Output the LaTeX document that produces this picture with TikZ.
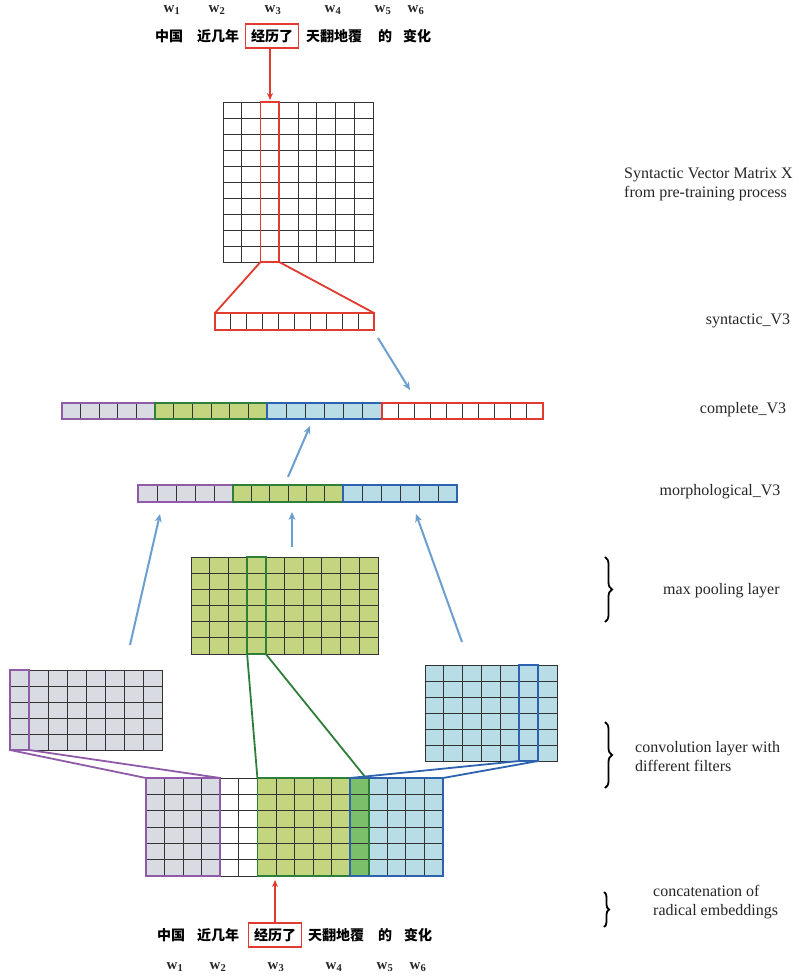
\documentclass[tikz,border=0pt]{standalone}
\usepackage{fontspec}
\setmainfont{Liberation Serif}
\newfontfamily\cjk{Noto Sans CJK SC}
\usetikzlibrary{arrows.meta,decorations.pathreplacing}
\definecolor{gridc}{HTML}{333333}
\definecolor{purp}{HTML}{8E5BA8}
\definecolor{greyf}{HTML}{D8DCE2}
\definecolor{grn}{HTML}{2F7F3A}
\definecolor{olive}{HTML}{C4D580}
\definecolor{dkgf}{HTML}{7BBF6A}
\definecolor{blu}{HTML}{2D62AE}
\definecolor{lblue}{HTML}{B8DDE6}
\definecolor{redc}{HTML}{E23A2E}
\definecolor{arrc}{HTML}{6B9FCF}
\newcommand\cellgrid[7]{%
  \fill[#7] (#1,#2) rectangle (#3,#4);
  \pgfmathtruncatemacro\gc{#5-1}%
  \foreach \k in {1,...,\gc}{\draw[gridline] ({#1+(#3-#1)*\k/#5},#2) -- ({#1+(#3-#1)*\k/#5},#4);}%
  \ifnum#6>1
    \pgfmathtruncatemacro\gr{#6-1}%
    \foreach \k in {1,...,\gr}{\draw[gridline] (#1,{#2+(#4-#2)*\k/#6}) -- (#3,{#2+(#4-#2)*\k/#6});}%
  \fi
  \draw[gridline] (#1,#2) rectangle (#3,#4);
}
\tikzset{
  gridline/.style={draw=gridc,line width=0.9pt},
  outl/.style={line width=1.8pt},
  bluearrow/.style={draw=arrc,line width=2pt,-{Stealth[length=8pt,width=7pt]}},
  redarrow/.style={draw=redc,line width=1.5pt,-{Stealth[length=7pt,width=6pt]}},
  cn/.style={font=\cjk\bfseries\fontsize{14}{16}\selectfont,inner sep=0pt},
  redbox/.style={draw=redc,line width=1.5pt,inner xsep=5.5pt,minimum height=24pt},
  wl/.style={font=\bfseries\fontsize{15}{17}\selectfont,inner sep=0pt,text=black!85},
  lab/.style={font=\fontsize{16}{19}\selectfont,inner sep=0pt,align=left,text=black!85},
  bracestyle/.style={decorate,decoration={brace,amplitude=7pt},line width=1.8pt}
}
\begin{document}
\begin{tikzpicture}[x=1pt,y=-1pt]
\useasboundingbox (0,0) rectangle (803,979);
\fill[white] (0,0) rectangle (803,979);

% ---------- top words ----------
\node[wl] (wa1) at (172,10) {w\textsubscript{1}};
\node[wl] (wa2) at (217,10) {w\textsubscript{2}};
\node[wl] (wa3) at (273,10) {w\textsubscript{3}};
\node[wl] (wa4) at (333,10) {w\textsubscript{4}};
\node[wl] (wa5) at (383,10) {w\textsubscript{5}};
\node[wl] (wa6) at (416,10) {w\textsubscript{6}};
\node[cn] (ta1) at (169,36) {中国};
\node[cn] (ta2) at (218,36) {近几年};
\node[cn,redbox] (ta3) at (272,36) {经历了};
\node[cn] (ta4) at (334,36) {天翻地覆};
\node[cn] (ta5) at (385,36) {的};
\node[cn] (ta6) at (417,36) {变化};

% ---------- syntactic matrix X ----------
\cellgrid{223}{102}{373}{262}{8}{10}{white}
\draw[redc,outl] (260.5,102) rectangle (279.25,262);
\coordinate (xtop) at (270,100);
\coordinate (xcolBL) at (260.5,262);
\coordinate (xcolBR) at (279.25,262);
\draw[redarrow] (ta3.south -| xtop) -- (xtop);

% syntactic vector
\cellgrid{215}{313}{374}{330}{10}{1}{white}
\draw[redc,outl] (215,313) rectangle (374,330);
\coordinate (synTL) at (215,313);
\coordinate (synTR) at (374,313);
\draw[redc,outl] (xcolBL) -- (synTL);
\draw[redc,outl] (xcolBR) -- (synTR);

% ---------- complete vector ----------
\cellgrid{62}{403}{155}{419}{5}{1}{greyf}
\cellgrid{155}{403}{267}{419}{6}{1}{olive}
\cellgrid{267}{403}{382}{419}{6}{1}{lblue}
\cellgrid{382}{403}{543}{419}{10}{1}{white}
\draw[purp,outl] (62,403) rectangle (155,419);
\draw[grn,outl] (155,403) rectangle (267,419);
\draw[blu,outl] (267,403) rectangle (382,419);
\draw[redc,outl] (382,403) rectangle (543,419);
\coordinate (synOut) at (378,338);
\coordinate (compIn1) at (410,390);
\draw[bluearrow] (synOut) -- (compIn1);

% ---------- morphological vector ----------
\cellgrid{138}{485}{233}{502}{5}{1}{greyf}
\cellgrid{233}{485}{343}{502}{6}{1}{olive}
\cellgrid{343}{485}{457}{502}{6}{1}{lblue}
\draw[purp,outl] (138,485) rectangle (233,502);
\draw[grn,outl] (233,485) rectangle (343,502);
\draw[blu,outl] (343,485) rectangle (457,502);
\coordinate (morOut) at (288,477);
\coordinate (compIn2) at (310,426);
\draw[bluearrow] (morOut) -- (compIn2);

% ---------- max pooling grid ----------
\cellgrid{191}{557}{378}{654}{10}{6}{olive}
\draw[grn,outl] (247.1,557) rectangle (265.8,654);
\coordinate (poolBL) at (247.1,654);
\coordinate (poolBR) at (265.8,654);

% ---------- left conv grid ----------
\cellgrid{10}{670}{162}{750}{8}{5}{greyf}
\draw[purp,outl] (10,670) rectangle (29,750);
\coordinate (lcBL) at (10,750);
\coordinate (lcBR) at (29,750);

% ---------- right conv grid ----------
\cellgrid{425}{665}{557}{761}{7}{6}{lblue}
\draw[blu,outl] (519.3,665) rectangle (538.1,761);
\coordinate (rcBL) at (519.3,761);
\coordinate (rcBR) at (538.1,761);

% arrows into morphological vector
\coordinate (lcOut) at (130,645);
\coordinate (morIn1) at (160,514);
\coordinate (poolOut) at (292,547);
\coordinate (morIn2) at (292,512);
\coordinate (rcOut) at (462,642);
\coordinate (morIn3) at (416,514);
\draw[bluearrow] (lcOut) -- (morIn1);
\draw[bluearrow] (poolOut) -- (morIn2);
\draw[bluearrow] (rcOut) -- (morIn3);

% ---------- concatenation grid ----------
\cellgrid{146}{778}{220.25}{876}{4}{6}{greyf}
\cellgrid{220.25}{778}{257.4}{876}{2}{6}{white}
\cellgrid{257.4}{778}{350.2}{876}{5}{6}{olive}
\cellgrid{350.2}{778}{368.8}{876}{1}{6}{dkgf}
\cellgrid{368.8}{778}{443}{876}{4}{6}{lblue}
\draw[purp,outl] (146,778) rectangle (220.25,876);
\draw[grn,outl] (257.4,778) rectangle (368.8,876);
\draw[blu,outl] (350.2,778) rectangle (443,876);
\coordinate (ccPL) at (146,778);
\coordinate (ccPR) at (220.25,778);
\coordinate (ccGL) at (257.4,778);
\coordinate (ccGR) at (366,778);
\coordinate (ccBL) at (350.2,778);
\coordinate (ccBR) at (443,778);
\coordinate (ccbot) at (275,880);

% connectors from conv/pool to concat
\draw[purp,outl] (lcBL) -- (ccPL);
\draw[purp,outl] (lcBR) -- (ccPR);
\draw[grn,outl] (poolBL) -- (ccGL);
\draw[grn,outl] (poolBR) -- (ccGR);
\draw[blu,outl] (rcBL) -- (ccBL);
\draw[blu,outl] (rcBR) -- (ccBR);

% ---------- bottom words ----------
\node[cn] (tb1) at (171,935) {中国};
\node[cn] (tb2) at (218,935) {近几年};
\node[cn,redbox] (tb3) at (275,935) {经历了};
\node[cn] (tb4) at (336,935) {天翻地覆};
\node[cn] (tb5) at (385,935) {的};
\node[cn] (tb6) at (418,935) {变化};
\node[wl] (wb1) at (175,967) {w\textsubscript{1}};
\node[wl] (wb2) at (218,967) {w\textsubscript{2}};
\node[wl] (wb3) at (276,967) {w\textsubscript{3}};
\node[wl] (wb4) at (334,967) {w\textsubscript{4}};
\node[wl] (wb5) at (385,967) {w\textsubscript{5}};
\node[wl] (wb6) at (418,967) {w\textsubscript{6}};
\draw[redarrow] (tb3.north -| ccbot) -- (ccbot);

% ---------- right labels ----------
\node[lab,anchor=west] (l1) at (624,184) {Syntactic Vector Matrix X\\from pre-training process};
\node[lab] (l2) at (748,321) {syntactic\_V3};
\node[lab] (l3) at (743,410) {complete\_V3};
\node[lab] (l4) at (720,492) {morphological\_V3};
\node[lab,anchor=west] (l5) at (663,591) {max pooling layer};
\node[lab,anchor=west] (l6) at (635,757) {convolution layer with\\different filters};
\node[lab,anchor=west] (l7) at (653,902) {concatenation of\\radical embeddings};

% braces
\coordinate (b1t) at (605,557); \coordinate (b1b) at (605,622);
\coordinate (b2t) at (605,722); \coordinate (b2b) at (605,788);
\coordinate (b3t) at (604,892); \coordinate (b3b) at (604,927);
\draw[bracestyle] (b1t) -- (b1b);
\draw[bracestyle] (b2t) -- (b2b);
\draw[bracestyle,decoration={brace,amplitude=5pt}] (b3t) -- (b3b);
\end{tikzpicture}
\end{document}
